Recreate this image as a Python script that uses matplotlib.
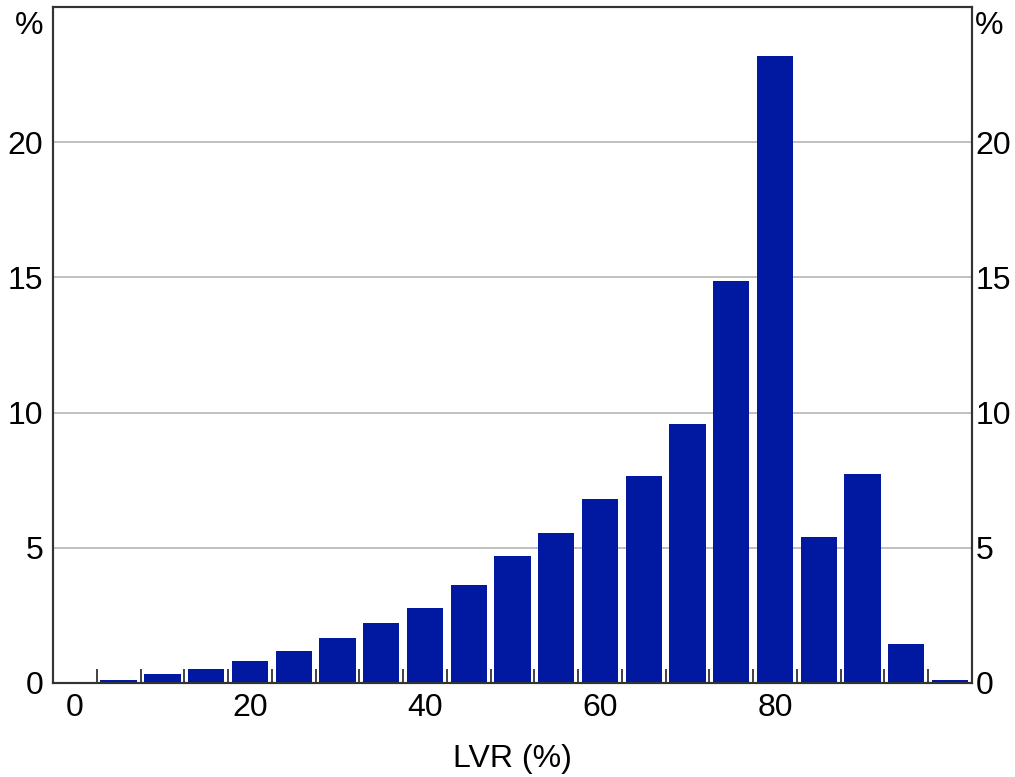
import matplotlib
matplotlib.use('Agg')
import matplotlib.pyplot as plt
import numpy as np

plt.rcParams['font.family'] = ['Liberation Sans', 'DejaVu Sans']

# LVR bucket (upper edge, %) and share of loans (%)
lvr = [5, 10, 15, 20, 25, 30, 35, 40, 45, 50, 55, 60, 65, 70, 75, 80, 85, 90, 95, 100]
share = [0.1, 0.32, 0.52, 0.81, 1.17, 1.65, 2.22, 2.78, 3.63, 4.69, 5.53, 6.8, 7.65,
         9.56, 14.85, 23.2, 5.4, 7.74, 1.44, 0.1]
xticks = [0, 20, 40, 60, 80]
yticks = [0, 5, 10, 15, 20]
bar_col = '#0019A0'
fs = 23

fig = plt.figure(figsize=(10.15, 7.77), dpi=100)
ax = fig.add_axes([0.0522, 0.121, 0.9054, 0.870])

ax.bar(lvr, share, width=4.15, color=bar_col, zorder=3)

ax.set_xlim(-2.5, 102.5)
ax.set_ylim(0, 25)
ax.set_yticks(yticks)
ax.grid(axis='y', color='#c0c0c0', linewidth=1.4, zorder=0)

ax.set_xticks(xticks)
ax.set_xticks(np.arange(2.5, 100, 5), minor=True)
ax.tick_params(axis='x', which='major', length=0, pad=7, labelsize=fs)
ax.tick_params(axis='x', which='minor', direction='in', length=10, width=1.3, color='#333333')
ax.tick_params(axis='y', which='both', length=0, labelsize=fs, pad=7)

# right hand scale, same as left but sits closer to the frame
ax2 = ax.twinx()
ax2.set_ylim(ax.get_ylim())
ax2.set_yticks(yticks)
ax2.tick_params(axis='y', length=0, labelsize=fs, pad=2.5)

for a in (ax, ax2):
    for s in a.spines.values():
        s.set_color('#333333')
        s.set_linewidth(1.5)

ax.set_xlabel('LVR (%)', fontsize=fs, labelpad=15)

ax.annotate('%', xy=(0, 1), xycoords='axes fraction', xytext=(-7, -3),
            textcoords='offset points', ha='right', va='top', fontsize=fs)
ax.annotate('%', xy=(1, 1), xycoords='axes fraction', xytext=(2, -3),
            textcoords='offset points', ha='left', va='top', fontsize=fs)

fig.savefig('out.png', dpi=100)
